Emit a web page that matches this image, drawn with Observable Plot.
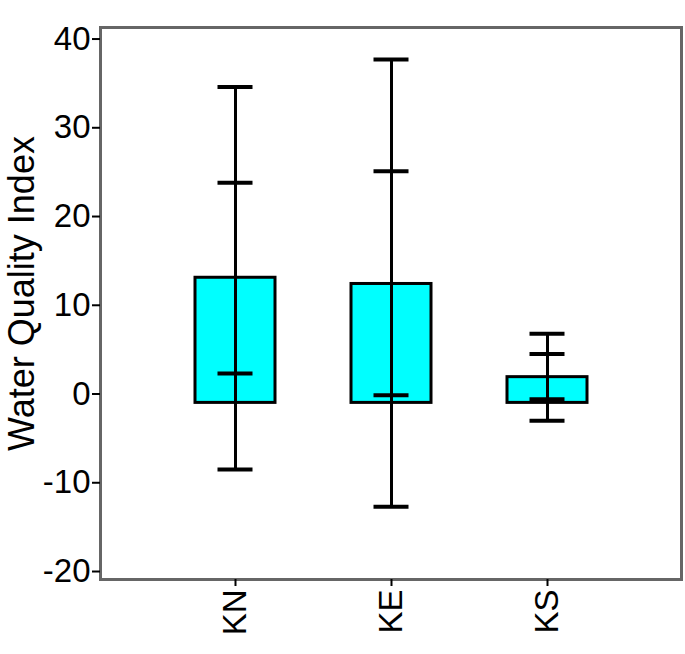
<!DOCTYPE html>
<html>
<head>
<meta charset="utf-8">
<script src="https://cdn.jsdelivr.net/npm/d3@7"></script>
<script src="https://cdn.jsdelivr.net/npm/@observablehq/plot@0.6"></script>
<style>
  html, body { margin: 0; padding: 0; background: #fff; }
  #chart svg { display: block; }
</style>
</head>
<body>
<div id="chart"></div>
<script>
const categories = ["KN", "KE", "KS"];
const boxLow = [-1.0, -1.0, -1.0];
const boxHigh = [13.1, 12.4, 1.9];
const whiskerLow = [-8.5, -12.7, -3.0];
const whiskerHigh = [34.6, 37.7, 6.8];
const upperMark = [23.8, 25.1, 4.5];
const lowerMark = [2.3, -0.15, -0.6];
const yTicks = [-20, -10, 0, 10, 20, 30, 40];
const yLabel = "Water Quality Index";

const rows = categories.map((c, i) => ({
  cat: c, lo: boxLow[i], hi: boxHigh[i],
  wlo: whiskerLow[i], whi: whiskerHigh[i],
  up: upperMark[i], low: lowerMark[i]
}));
const caps = rows.flatMap(r => [r.wlo, r.whi, r.up, r.low].map(v => ({cat: r.cat, v})));

const chart = Plot.plot({
  width: 685,
  height: 654,
  marginLeft: 100,
  marginRight: 4,
  marginTop: 27,
  marginBottom: 75,
  style: {fontFamily: "'Liberation Sans', Arial, sans-serif", background: "#fff"},
  x: {domain: categories, paddingInner: 0.49, paddingOuter: 0.6},
  y: {domain: [-20.9, 41.3]},
  marks: [
    Plot.barY(rows, {x: "cat", y1: "lo", y2: "hi", fill: "#00ffff", stroke: "#000", strokeWidth: 3}),
    Plot.ruleX(rows, {x: "cat", y1: "wlo", y2: "whi", stroke: "#000", strokeWidth: 3}),
    Plot.tickY(caps, {x: "cat", y: "v", stroke: "#000", strokeWidth: 4, insetLeft: 22.5, insetRight: 22.5}),
    Plot.frame({stroke: "#666", strokeWidth: 3}),
    Plot.axisY({ticks: yTicks, tickFormat: d => String(d), tickSize: 8, tickPadding: 2, fontSize: 33, label: null, stroke: "#000", strokeWidth: 2, color: "#000"}),
    Plot.axisX({tickSize: 7, tickPadding: 3, tickRotate: -90, fontSize: 33, label: null, stroke: "#000", strokeWidth: 2, color: "#000"}),
    Plot.text([yLabel], {text: d => d, frameAnchor: "left", dx: -78, dy: -10, rotate: -90, fontSize: 36, fill: "#000", textAnchor: "middle", lineAnchor: "middle"})
  ]
});
document.getElementById("chart").appendChild(chart);
</script>
</body>
</html>
